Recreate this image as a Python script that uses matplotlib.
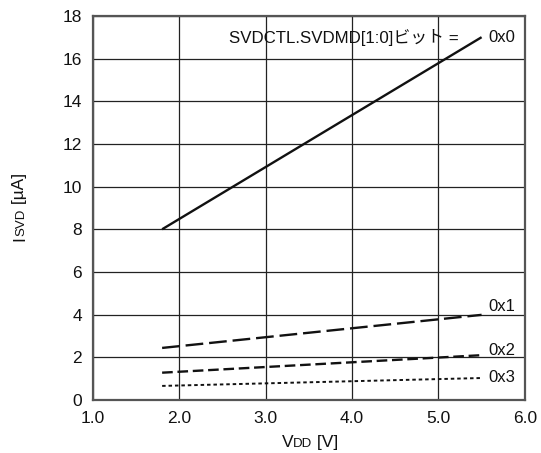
import matplotlib
matplotlib.use("Agg")
import matplotlib.pyplot as plt
from matplotlib.transforms import offset_copy

plt.rcParams['font.family'] = ['Liberation Sans', 'Noto Sans CJK JP', 'DejaVu Sans']

# data
vdd = [1.8, 5.5]
isvd_0x0 = [8.0, 17.0]
isvd_0x1 = [2.44, 3.99]
isvd_0x2 = [1.28, 2.10]
isvd_0x3 = [0.66, 1.03]
names = ['0x0', '0x1', '0x2', '0x3']
label_y = [17.0, 4.4, 2.3, 1.05]

fig = plt.figure(figsize=(5.41, 4.53), dpi=100)
ax = fig.add_axes([0.172, 0.117, 0.798, 0.848])

ax.plot(vdd, isvd_0x0, color='#111111', lw=1.7, solid_capstyle='butt')
ax.plot(vdd, isvd_0x1, color='#111111', lw=1.7, dashes=(7.5, 2.5))
ax.plot(vdd, isvd_0x2, color='#111111', lw=1.7, dashes=(4.5, 2.0))
ax.plot(vdd, isvd_0x3, color='#111111', lw=1.4, dashes=(1.8, 1.5))

for n, y in zip(names, label_y):
    ax.text(5.58, y, n, fontsize=12, va='center', ha='left', color='#111111')
ax.text(5.24, 17.0, 'SVDCTL.SVDMD[1:0]ビット =', fontsize=12.2, va='center',
        ha='right', color='#111111')

ax.set_xlim(1.0, 6.0)
ax.set_ylim(0, 18)
ax.set_xticks([1, 2, 3, 4, 5, 6])
ax.set_xticklabels(['1.0', '2.0', '3.0', '4.0', '5.0', '6.0'])
ax.set_yticks(range(0, 19, 2))
ax.tick_params(length=0, labelsize=12.5, pad=8, colors='#111111')
ax.grid(True, color='#222222', lw=0.9)
for s in ax.spines.values():
    s.set_color('#555555')
    s.set_linewidth(1.6)

# axis labels with small-caps style suffixes
fig.canvas.draw()
r = fig.canvas.get_renderer()

def compose(parts, x, y, rot):
    # parts: list of (text, size); laid out along the text direction
    trans = fig.transFigure
    items = []
    for txt, sz in parts:
        t = fig.text(x, y, txt, fontsize=sz, rotation=rot, color='#111111',
                     ha='left', va='baseline' if rot == 0 else 'bottom',
                     rotation_mode='anchor')
        items.append(t)
    widths = []
    for t in items:
        bb = t.get_window_extent(r)
        widths.append(bb.width if rot == 0 else bb.height)
    off = -sum(widths) / 2
    for t, w in zip(items, widths):
        d = off * 72 / fig.dpi
        if rot == 0:
            t.set_transform(offset_copy(trans, fig=fig, x=d, y=0, units='points'))
        else:
            t.set_transform(offset_copy(trans, fig=fig, x=0, y=d, units='points'))
        off += w

compose([('V', 12.5), ('DD', 9.5), (' [V]', 12.5)], 0.573, 0.013, 0)
compose([('I', 12.5), ('SVD', 9.5), (' [µA]', 12.5)], 0.05, 0.543, 90)

fig.savefig('out.png', dpi=100)
